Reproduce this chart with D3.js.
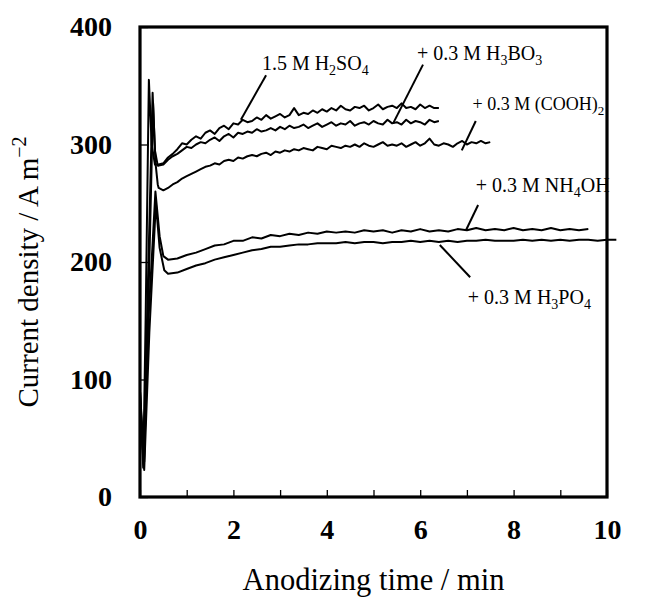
<!DOCTYPE html>
<html>
<head>
<meta charset="utf-8" />
<title>Current density during anodizing</title>
<script src="https://d3js.org/d3.v7.min.js"></script>
<style>
    body { margin: 0; background: #fff; }
    svg { display: block; }
    text { font-family: "Liberation Serif", "Times New Roman", serif; fill: #000; }
</style>
</head>
<body>
<svg id="chart" width="656" height="598"></svg>
<script>
// axis ticks
const xTickValues = [0, 1, 2, 3, 4, 5, 6, 7, 8, 9, 10];
const xTickLabels = [0, 2, 4, 6, 8, 10];
const yTickValues = [0, 100, 200, 300, 400];

// start-up transient of each curve, [time (min), current density (A m^-2)]
const h2so4Start = [[0.0, 90], [0.07, 25], [0.12, 150], [0.19, 355], [0.25, 300], [0.32, 283]];
const h3bo3Start = [[0.0, 90], [0.08, 28], [0.15, 150], [0.27, 344], [0.32, 295], [0.38, 282]];
const coohStart = [[0.0, 90], [0.09, 30], [0.17, 150], [0.28, 335], [0.33, 285], [0.38, 266]];
const nh4ohStart = [[0.0, 80], [0.08, 25], [0.18, 150], [0.33, 260], [0.42, 222], [0.5, 205]];
const h3po4Start = [[0.0, 80], [0.09, 23], [0.2, 140], [0.34, 250], [0.42, 212], [0.52, 193]];

// slow growth part, sampled every "step" min from "t0"
const h2so4T0 = 0.4, h2so4Step = 0.1;
const h2so4Values = [
    283, 284, 289, 292, 296, 301, 300, 304, 307, 305,
    310, 312, 309, 314, 316, 313, 318, 317, 321, 319,
    320, 323, 321, 325, 322, 324, 326, 323, 325, 331,
    325, 327, 326, 329, 327, 330, 328, 331, 329, 333,
    330, 329, 332, 331, 333, 329, 331, 334, 330, 332,
    333, 331, 335, 331, 332, 330, 334, 331, 333, 331,
    331];

const h3bo3T0 = 0.4, h3bo3Step = 0.1;
const h3bo3Values = [
    282, 283, 287, 290, 292, 295, 298, 297, 300, 302,
    301, 304, 306, 303, 307, 309, 306, 310, 309, 311,
    310, 313, 311, 312, 314, 312, 315, 313, 316, 314,
    315, 317, 314, 316, 318, 315, 317, 319, 316, 318,
    317, 320, 316, 318, 319, 317, 320, 318, 317, 321,
    318, 319, 317, 321, 318, 320, 319, 317, 321, 319,
    320];

const coohT0 = 0.4, coohStep = 0.1;
const coohValues = [
    263, 261, 263, 266, 268, 271, 273, 275, 277, 279,
    281, 282, 284, 283, 286, 287, 286, 289, 288, 290,
    291, 290, 292, 293, 291, 294, 293, 295, 294, 296,
    295, 297, 296, 295, 298, 297, 296, 299, 298, 297,
    299, 298, 300, 298, 301, 299, 298, 300, 302, 299,
    300, 299, 301, 298, 300, 302, 299, 301, 305, 300,
    299, 301, 300, 298, 301, 303, 300, 302, 301, 303,
    301, 302];

const nh4ohT0 = 0.6, nh4ohStep = 0.2;
const nh4ohValues = [202, 203, 206, 208, 211, 214, 215, 218, 218, 221, 220, 223, 222, 224, 223, 225,
    224, 226, 225, 226, 225, 227, 226, 227, 225, 227, 226, 228, 226, 227, 226, 228, 227, 229, 227, 228,
    227, 229, 227, 228, 227, 229, 227, 228, 227, 228];

const h3po4T0 = 0.6, h3po4Step = 0.2;
const h3po4Values = [190, 191, 194, 197, 199, 202, 204, 206, 208, 210, 211, 213, 213, 214, 215, 215,
    216, 216, 216, 217, 216, 217, 217, 216, 217, 217, 218, 217, 218, 217, 218, 217, 218, 218, 219, 218,
    218, 218, 219, 218, 219, 218, 219, 218, 219, 219, 218, 219, 219];

// labels: text parts [string, subscript?], label anchor and leader line in data units
const labels = [
    { parts: [["1.5 M H", 0], ["2", 1], ["SO", 0], ["4", 1]], size: 20, at: [2.61, 363], line: [[2.70, 359], [2.16, 321]] },
    { parts: [["+ 0.3 M H", 0], ["3", 1], ["BO", 0], ["3", 1]], size: 20, at: [5.93, 372], line: [[6.06, 368], [5.42, 318]] },
    { parts: [["+ 0.3 M (COOH)", 0], ["2", 1]], size: 18, at: [7.12, 329], line: [[7.19, 320], [6.89, 295]] },
    { parts: [["+ 0.3 M NH", 0], ["4", 1], ["OH", 0]], size: 20, at: [7.19, 259.5], line: [[7.24, 248.5], [6.98, 227]] },
    { parts: [["+ 0.3 M H", 0], ["3", 1], ["PO", 0], ["4", 1]], size: 20, at: [7.02, 164], line: [[6.42, 214.5], [7.07, 187]] }
];

function buildSeries(start, t0, step, values) {
    const slow = values.map((v, i) => [t0 + i * step, v]);
    return start.concat(slow);
}

const series = [
    buildSeries(h2so4Start, h2so4T0, h2so4Step, h2so4Values),
    buildSeries(h3bo3Start, h3bo3T0, h3bo3Step, h3bo3Values),
    buildSeries(coohStart, coohT0, coohStep, coohValues),
    buildSeries(nh4ohStart, nh4ohT0, nh4ohStep, nh4ohValues),
    buildSeries(h3po4Start, h3po4T0, h3po4Step, h3po4Values)
];

const margin = { top: 27, right: 49, bottom: 101, left: 140 };
const W = 656, H = 598;
const width = W - margin.left - margin.right;
const height = H - margin.top - margin.bottom;

const svg = d3.select("#chart");

const x = d3.scaleLinear().domain([0, 10]).range([margin.left, margin.left + width]);
const y = d3.scaleLinear().domain([0, 400]).range([margin.top + height, margin.top]);

// x axis, inward ticks
const xAxis = svg.append("g")
    .attr("transform", `translate(0,${margin.top + height})`)
    .call(d3.axisBottom(x)
        .tickValues(xTickValues)
        .tickSizeInner(-7)
        .tickSizeOuter(0)
        .tickPadding(22)
        .tickFormat(d => xTickLabels.includes(d) ? d : ""));
xAxis.select(".domain").remove();
xAxis.selectAll(".tick line").attr("stroke", "#000").attr("stroke-width", 1.3);
xAxis.selectAll("text")
    .attr("font-family", "Liberation Serif")
    .attr("font-weight", "bold")
    .attr("font-size", 28);

// y axis, inward ticks
const yAxis = svg.append("g")
    .attr("transform", `translate(${margin.left},0)`)
    .call(d3.axisLeft(y)
        .tickValues(yTickValues)
        .tickSizeInner(-8)
        .tickSizeOuter(0)
        .tickPadding(28));
yAxis.select(".domain").remove();
yAxis.selectAll(".tick line").attr("stroke", "#000").attr("stroke-width", 1.3);
yAxis.selectAll("text")
    .attr("font-family", "Liberation Serif")
    .attr("font-weight", "bold")
    .attr("font-size", 28);

// frame
svg.append("rect")
    .attr("x", margin.left)
    .attr("y", margin.top)
    .attr("width", width)
    .attr("height", height)
    .attr("fill", "none")
    .attr("stroke", "#000")
    .attr("stroke-width", 3.2);

// curves
const line = d3.line()
    .x(d => x(d[0]))
    .y(d => y(d[1]));

svg.selectAll(".curve")
    .data(series)
    .enter()
    .append("path")
    .attr("class", "curve")
    .attr("d", line)
    .attr("fill", "none")
    .attr("stroke", "#000")
    .attr("stroke-width", 2)
    .attr("stroke-linejoin", "round");

// leader lines and labels
svg.selectAll(".leader")
    .data(labels)
    .enter()
    .append("line")
    .attr("class", "leader")
    .attr("x1", d => x(d.line[0][0]))
    .attr("y1", d => y(d.line[0][1]))
    .attr("x2", d => x(d.line[1][0]))
    .attr("y2", d => y(d.line[1][1]))
    .attr("stroke", "#000")
    .attr("stroke-width", 2);

labels.forEach(lab => {
    const t = svg.append("text")
        .attr("x", x(lab.at[0]))
        .attr("y", y(lab.at[1]))
        .attr("font-size", lab.size);
    const subSize = Math.round(lab.size * 0.7);
    let shifted = false;
    lab.parts.forEach(([s, sub]) => {
        const span = t.append("tspan").text(s);
        if (sub && !shifted) { span.attr("dy", 5).attr("font-size", subSize); shifted = true; }
        else if (sub) { span.attr("font-size", subSize); }
        else if (shifted) { span.attr("dy", -5); shifted = false; }
    });
});

// axis titles
svg.append("text")
    .attr("x", margin.left + width / 2)
    .attr("y", 590)
    .attr("text-anchor", "middle")
    .attr("font-size", 30.5)
    .text("Anodizing time / min");

const yTitle = svg.append("text")
    .attr("transform", `translate(38,${margin.top + height / 2 + 10}) rotate(-90)`)
    .attr("text-anchor", "middle")
    .attr("font-size", 29);
yTitle.append("tspan").text("Current density / A m");
yTitle.append("tspan").attr("dy", -12).attr("font-size", 20).text("\u22122");
</script>
</body>
</html>
